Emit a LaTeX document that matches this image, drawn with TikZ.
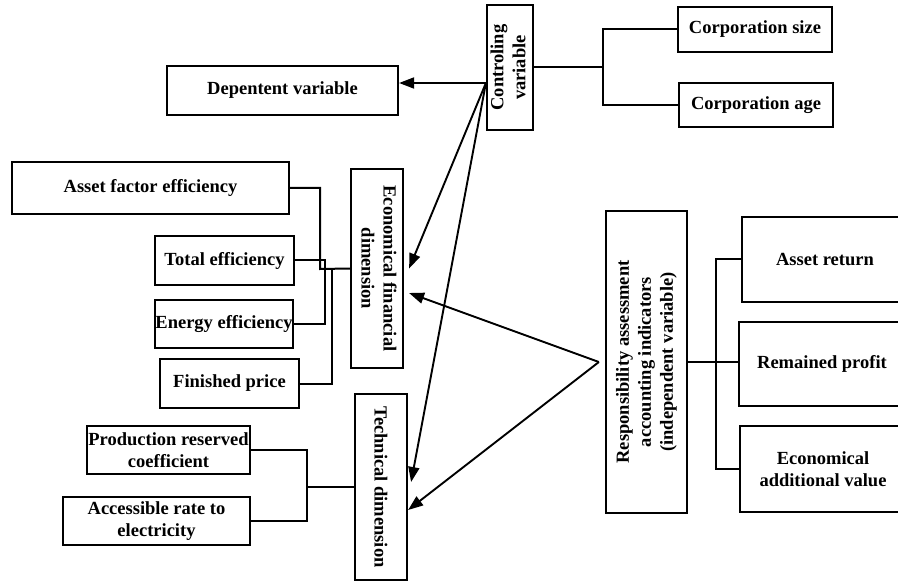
\documentclass[tikz,border=0pt]{standalone}
\usepackage{fontspec}
\setmainfont{Liberation Serif}
\usetikzlibrary{arrows.meta,calc}
\begin{document}
\begin{tikzpicture}[x=1pt,y=-1pt,
  box/.style={draw,line width=2.2pt,inner sep=0pt,align=center,
    font=\fontsize{18.5}{22}\selectfont\bfseries},
  conn/.style={line width=2pt},
  arr/.style={line width=1.9pt,-{Triangle[length=15pt,width=11pt]}}]
\useasboundingbox (0,0) rectangle (898,583);
% nodes
\node[box,minimum width=231,minimum height=49] (dep) at (282.5,90.5) {Depentent variable};
\node[box,minimum width=46,minimum height=125] (ctrl) at (510,67.5)
  {\rotatebox{90}{\begin{tabular}{@{}c@{}}Controling\\variable\end{tabular}}};
\node[box,minimum width=154,minimum height=45] (csize) at (755,29.5) {Corporation size};
\node[box,minimum width=154,minimum height=44] (cage) at (756,105) {Corporation age};
\node[box,minimum width=277,minimum height=52] (afe) at (150.5,188) {Asset factor efficiency};
\node[box,minimum width=139,minimum height=49] (te) at (224.5,260.5) {Total efficiency};
\node[box,minimum width=138,minimum height=48] (ee) at (224,324) {Energy efficiency};
\node[box,minimum width=139,minimum height=49] (fp) at (229.5,383.5) {Finished price};
\node[box,minimum width=52,minimum height=199] (econ) at (377,268.5)
  {\rotatebox{-90}{\begin{tabular}{@{}c@{}}Economical financial\\dimension\end{tabular}}};
\node[box,minimum width=52,minimum height=186] (tech) at (381,487)
  {\rotatebox{-90}{Technical dimension}};
\node[box,minimum width=163,minimum height=48] (prc) at (168.5,450)
  {Production reserved\\coefficient};
\node[box,minimum width=187,minimum height=48] (are) at (156.5,521)
  {Accessible rate to\\electricity};
\node[box,minimum width=81,minimum height=302] (resp) at (646.5,362)
  {\rotatebox{90}{\begin{tabular}{@{}c@{}}Responsibility assessment\\accounting indicators\\(independent variable)\end{tabular}}};
\node[box,minimum width=166,minimum height=85] (ar) at (825,259.5) {Asset return};
\node[box,minimum width=166,minimum height=84] (rp) at (822,364) {Remained profit};
\node[box,minimum width=166,minimum height=86] (eav) at (823,469)
  {Economical\\additional value};
% junction coordinates
\coordinate (cA) at ([yshift=-15.5pt]ctrl.west);
\coordinate (cj) at (603,67.5);
\coordinate (ej1) at (320,269);
\coordinate (ej2) at (325,300);
\coordinate (ej3) at (332,269);
\coordinate (tj) at (307,487);
\coordinate (rj) at (716,366);
% controlling variable
\draw[arr] (cA) -- (cA -| dep.east);
\draw[conn] (ctrl.east) -- (cj);
\draw[conn] (csize.west) -- (csize.west -| cj) -- (cage.west -| cj) -- (cage.west);
\draw[arr] (cA) -- ([xshift=5pt]econ.east);
\draw[arr] (cA) -- ([shift={(3pt,5pt)}]tech.east);
% economic bracket
\draw[conn] (afe.east) -- (afe.east -| ej1) -- (ej1) -- (econ.west);
\draw[conn] (te.east) -- (te.east -| ej2) -- (ee.east -| ej2) -- (ee.east);
\draw[conn] (fp.east) -- (fp.east -| ej3) -- (ej3);
% technical bracket
\draw[conn] (prc.east) -- (prc.east -| tj) -- (are.east -| tj) -- (are.east);
\draw[conn] (tj) -- (tech.west);
% responsibility
\draw[arr] ([xshift=-6pt]resp.west) -- ([shift={(5pt,-24.5pt)}]econ.east);
\draw[arr] ([xshift=-6pt]resp.west) -- ([yshift=-23pt]tech.east);
\draw[conn] (ar.west) -- (ar.west -| rj) -- (eav.west -| rj) -- (eav.west);
\draw[conn] (resp.east) -- (resp.east -| rp.west);
\end{tikzpicture}
\end{document}
